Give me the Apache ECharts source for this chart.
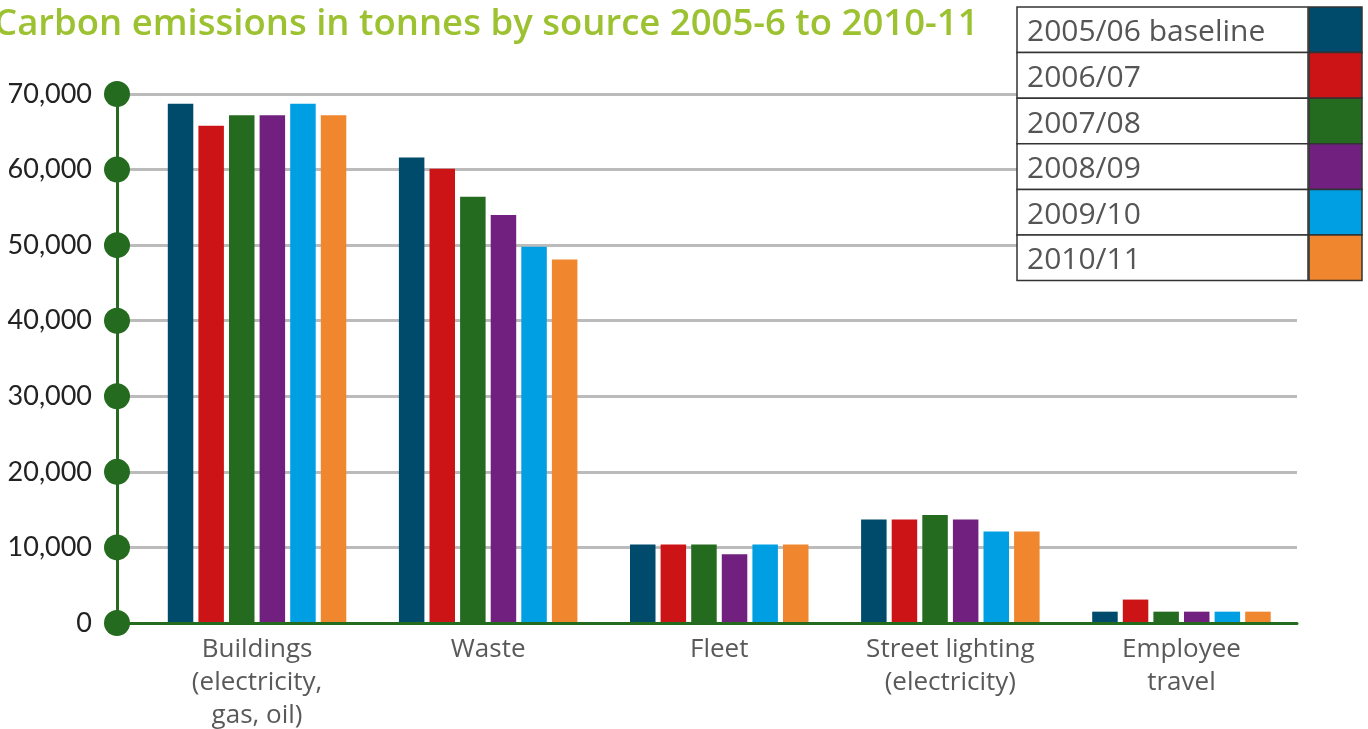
<!DOCTYPE html>
<html>
<head>
<meta charset="utf-8">
<title>Carbon emissions in tonnes by source</title>
<script src="https://cdn.jsdelivr.net/npm/echarts@6/dist/echarts.min.js"></script>
<style>
  html, body { margin: 0; padding: 0; background: #ffffff; }
  #chart { width: 1368px; height: 729px; }
</style>
</head>
<body>
<div id="chart"></div>
<script>
// Emission sources (x categories)
const categories = [
  'Buildings\n(electricity,\ngas, oil)',
  'Waste',
  'Fleet',
  'Street lighting\n(electricity)',
  'Employee\ntravel'
];

// Years shown in the key
const seriesNames = ['2005/06 baseline', '2006/07', '2007/08', '2008/09', '2009/10', '2010/11'];
const seriesColors = ['#004b6b', '#cc1417', '#246b1f', '#72207f', '#009fe3', '#f0862d'];

// Tonnes of CO2 per source, one array per year
const y2005_06 = [68700, 61600, 10400, 13700, 1500];
const y2006_07 = [65800, 60100, 10400, 13700, 3100];
const y2007_08 = [67200, 56400, 10400, 14300, 1500];
const y2008_09 = [67200, 54000, 9100, 13700, 1500];
const y2009_10 = [68700, 49800, 10400, 12100, 1500];
const y2010_11 = [67200, 48100, 10400, 12100, 1500];
const yearValues = [y2005_06, y2006_07, y2007_08, y2008_09, y2009_10, y2010_11];

// Value axis ticks (also marked with round dots on the axis)
const yTicks = [0, 10000, 20000, 30000, 40000, 50000, 60000, 70000];

const axisGreen = '#246b1f';
const numFont = 'Lato, "Open Sans", sans-serif';
const textFont = '"Open Sans", Lato, sans-serif';

const chart = echarts.init(document.getElementById('chart'));

const barSeries = seriesNames.map((name, i) => ({
  name: name,
  type: 'bar',
  xAxisIndex: 1,
  yAxisIndex: 1,
  data: yearValues[i],
  barWidth: 25.5,
  barGap: '20%',
  itemStyle: { color: seriesColors[i] },
  z: 3,
  silent: true
}));

// Key drawn as a bordered table: label cell + colour swatch
const keyLeft = 1017, keyTop = 7, rowH = 45.6, textW = 291, swatchW = 53;
const keyGraphics = [];
seriesNames.forEach((name, i) => {
  const top = keyTop + i * rowH;
  keyGraphics.push({
    type: 'rect',
    shape: { x: keyLeft, y: top, width: textW, height: rowH },
    style: { fill: '#ffffff', stroke: '#333333', lineWidth: 1.5 },
    z: 100
  });
  keyGraphics.push({
    type: 'rect',
    shape: { x: keyLeft + textW + 1, y: top, width: swatchW, height: rowH },
    style: { fill: seriesColors[i], stroke: '#333333', lineWidth: 1.5 },
    z: 100
  });
  keyGraphics.push({
    type: 'text',
    x: keyLeft + 10,
    y: top + rowH / 2 + 3,
    style: {
      text: name,
      fill: '#555555',
      font: '30px ' + textFont,
      textVerticalAlign: 'middle'
    },
    z: 101
  });
});

const option = {
  animation: false,
  backgroundColor: '#ffffff',
  textStyle: { fontFamily: textFont },
  grid: [
    { left: 117, right: 71, top: 94, bottom: 106, outerBoundsMode: 'none' },
    { left: 141.5, right: 71, top: 94, bottom: 106, outerBoundsMode: 'none' }
  ],
  xAxis: [
    {
      gridIndex: 0,
      type: 'value',
      min: 0,
      max: 1,
      axisLine: { show: true, onZero: false, lineStyle: { color: axisGreen, width: 3 } },
      axisTick: { show: false },
      axisLabel: { show: false },
      splitLine: { show: false },
      z: 4
    },
    {
      gridIndex: 1,
      type: 'category',
      data: categories,
      axisLine: { show: false },
      axisTick: { show: false },
      splitLine: { show: false },
      axisLabel: {
        color: '#595959',
        fontSize: 26,
        lineHeight: 33,
        margin: 10,
        interval: 0,
        fontFamily: textFont
      }
    }
  ],
  yAxis: [
    {
      gridIndex: 0,
      type: 'value',
      min: 0,
      max: 70000,
      interval: 10000,
      axisLine: { show: true, lineStyle: { color: axisGreen, width: 3 } },
      axisTick: { show: false },
      splitLine: { show: true, lineStyle: { color: '#bbbbbb', width: 3 } },
      axisLabel: {
        color: '#222222',
        fontSize: 27,
        margin: 25,
        fontFamily: numFont,
        formatter: v => v.toLocaleString('en-GB')
      }
    },
    {
      gridIndex: 1,
      type: 'value',
      min: 0,
      max: 70000,
      interval: 10000,
      show: false,
      splitLine: { show: false }
    }
  ],
  series: [
    ...barSeries,
    {
      name: 'axisDots',
      type: 'scatter',
      xAxisIndex: 0,
      yAxisIndex: 0,
      data: yTicks.map(v => [0, v]),
      symbol: 'circle',
      symbolSize: 26,
      clip: false,
      itemStyle: { color: axisGreen, opacity: 1 },
      z: 10,
      silent: true
    }
  ],
  graphic: [
    {
      type: 'text',
      x: -6,
      y: 6,
      style: {
        text: 'Carbon emissions in tonnes by source 2005-6 to 2010-11',
        fill: '#9cc231',
        font: '600 36.5px ' + textFont
      },
      z: 100
    },
    ...keyGraphics
  ]
};

chart.setOption(option);
</script>
</body>
</html>
